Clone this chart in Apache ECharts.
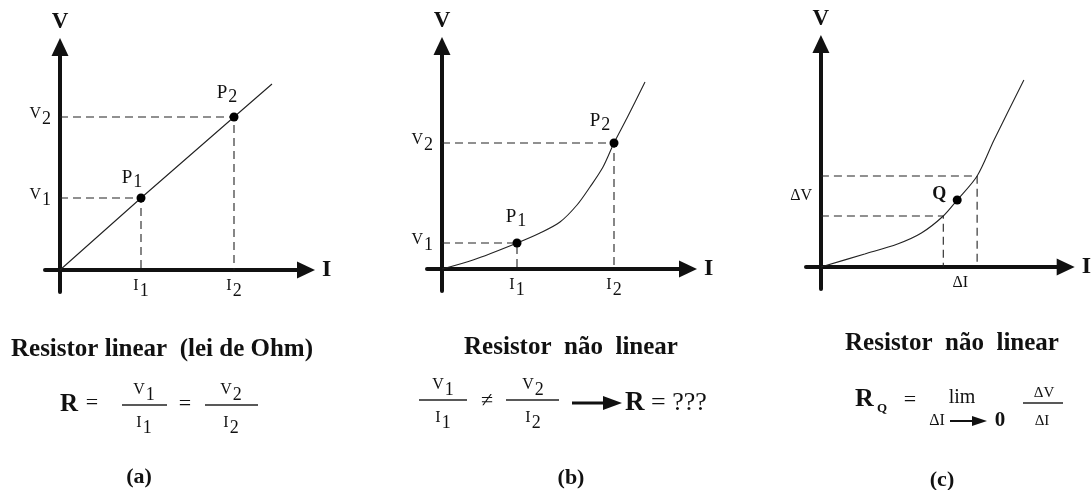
<!DOCTYPE html>
<html>
<head>
<meta charset="utf-8">
<title>Resistor linear e não linear</title>
<script src="https://cdn.jsdelivr.net/npm/echarts@6/dist/echarts.min.js"></script>
<style>
  html, body { margin: 0; padding: 0; background: #fff; }
  #chart { width: 1092px; height: 490px; }
</style>
</head>
<body>
<div id="chart"></div>
<script>
// (a) resistor linear: reta passando pela origem
const linearI = [0, 81, 174, 212];
const linearV = [0, 72, 153, 186];
const pointsA_I = [81, 174];
const pointsA_V = [72, 153];

// (b) resistor não linear
const curveB_I = [0, 31, 75, 98, 118, 135, 148, 161, 172, 185, 203];
const curveB_V = [0, 9, 26, 36, 47, 64, 82, 102, 126, 151, 187];
const pointsB_I = [75, 172];
const pointsB_V = [26, 126];

// (c) ponto Q e os incrementos
const curveC_I = [0, 44, 77, 101, 123, 137, 157, 174, 204];
const curveC_V = [0, 13, 23, 34, 51, 67, 91, 127, 187];
const pointQ_I = [137];
const pointQ_V = [67];
const deltaI = [123, 157];
const deltaV = [51, 91];

// rótulos
const pointNames = [['P', '1'], ['P', '2']];
const tickI = [['I', '1'], ['I', '2']];
const tickV = [['V', '1'], ['V', '2']];

const SERIF = "'Liberation Serif', 'DejaVu Serif', serif";
const INK = '#111';

const sub = (b, s) => '{b|' + b + '}{s|' + s + '}';
const tickRich = {
  b: { fontFamily: SERIF, fontSize: 16, color: INK, verticalAlign: 'top' },
  s: { fontFamily: SERIF, fontSize: 18, color: INK, verticalAlign: 'bottom', padding: [4, 0, 0, 1] }
};
const ptRich = {
  b: { fontFamily: SERIF, fontSize: 19, color: INK, verticalAlign: 'top' },
  s: { fontFamily: SERIF, fontSize: 18, color: INK, verticalAlign: 'bottom', padding: [4, 0, 0, 1] }
};

// origem de cada painel em pixels -> grids
const origins = [[60, 270], [442, 269], [821, 267]];
const X_MIN = -15, X_MAX = 246, Y_MIN = -22, Y_MAX = 223;

const grids = origins.map(o => ({
  left: o[0] + X_MIN, top: o[1] - Y_MAX,
  width: X_MAX - X_MIN, height: Y_MAX - Y_MIN
}));

function xAxis(idx, values, labels) {
  return {
    type: 'value', gridIndex: idx, min: X_MIN, max: X_MAX,
    name: 'I', nameLocation: 'end', nameGap: 16,
    nameTextStyle: { fontFamily: SERIF, fontWeight: 'bold', fontSize: 24, color: INK },
    axisLine: { onZero: true, symbol: ['none', 'triangle'], symbolSize: [17, 18],
      lineStyle: { color: INK, width: 4 } },
    axisTick: { show: false },
    splitLine: { show: false },
    axisLabel: { customValues: values, margin: -14, rich: tickRich,
      formatter: v => labels[values.indexOf(v)] || '' }
  };
}
function yAxis(idx, values, labels) {
  return {
    type: 'value', gridIndex: idx, min: Y_MIN, max: Y_MAX,
    name: 'V', nameLocation: 'end', nameGap: 13,
    nameTextStyle: { fontFamily: SERIF, fontWeight: 'bold', fontSize: 23, color: INK },
    axisLine: { onZero: true, symbol: ['none', 'triangle'], symbolSize: [17, 18],
      lineStyle: { color: INK, width: 4 } },
    axisTick: { show: false },
    splitLine: { show: false },
    axisLabel: { customValues: values, margin: -6, rich: tickRich,
      formatter: v => labels[values.indexOf(v)] || '' }
  };
}

const zip = (a, b) => a.map((v, i) => [v, b[i]]);

function curve(idx, I, V, smooth) {
  return {
    type: 'line', xAxisIndex: idx, yAxisIndex: idx, data: zip(I, V),
    showSymbol: false, smooth: smooth, silent: true,
    lineStyle: { color: '#222', width: 1.1 }, z: 3
  };
}
// linhas tracejadas: eixo V -> ponto -> eixo I
function guides(idx, I, V) {
  return I.map((x, k) => ({
    type: 'line', xAxisIndex: idx, yAxisIndex: idx, silent: true,
    data: [[0, V[k]], [x, V[k]], [x, 0]], showSymbol: false,
    lineStyle: { color: '#222', width: 1.1, type: [8, 5] }, z: 2
  }));
}
function points(idx, I, V, labels, offsets) {
  return {
    type: 'scatter', xAxisIndex: idx, yAxisIndex: idx, symbolSize: 9,
    itemStyle: { color: '#000', opacity: 1 }, z: 4,
    data: zip(I, V).map((p, k) => ({
      value: p,
      label: { show: true, position: 'inside', offset: offsets[k], rich: labels[k].rich,
        formatter: labels[k].text, fontFamily: SERIF, fontWeight: labels[k].bold ? 'bold' : 'normal',
        fontSize: 18, color: INK }
    }))
  };
}

const pLabels = pointNames.map(n => ({ text: sub(n[0], n[1]), rich: ptRich }));

const midI = (deltaI[0] + deltaI[1]) / 2;
const midV = (deltaV[0] + deltaV[1]) / 2;

const series = [
  curve(0, linearI, linearV, false),
  ...guides(0, pointsA_I, pointsA_V),
  points(0, pointsA_I, pointsA_V, pLabels, [[-9, -18], [-7, -22]]),
  curve(1, curveB_I, curveB_V, 0.3),
  ...guides(1, pointsB_I, pointsB_V),
  points(1, pointsB_I, pointsB_V, pLabels, [[-1, -24], [-14, -20]]),
  curve(2, curveC_I, curveC_V, 0.3),
  ...guides(2, deltaI, deltaV),
  points(2, pointQ_I, pointQ_V, [{ text: 'Q', bold: true }], [[-18, -6]])
];

// textos e fórmulas abaixo dos gráficos
function txt(x, y, text, o) {
  return { type: 'text', x: x, y: y, silent: true,
    style: Object.assign({ text: text, fontFamily: SERIF, fontSize: 22, fill: INK,
      align: 'center', verticalAlign: 'middle' }, o || {}) };
}
function bar(x1, x2, y) {
  return { type: 'line', silent: true, shape: { x1: x1, y1: y, x2: x2, y2: y },
    style: { stroke: '#222', lineWidth: 1.3 } };
}
function frac(cx, x1, x2, yLine, num, den) {
  return [
    txt(cx, yLine - 12, num, { rich: tickRich }),
    bar(x1, x2, yLine),
    txt(cx, yLine + 21, den, { rich: tickRich })
  ];
}
const bold = { fontWeight: 'bold', fontSize: 25 };

const graphic = [
  // (a)
  txt(162, 350, 'Resistor linear  (lei de Ohm)', bold),
  txt(60, 405, 'R', { fontWeight: 'bold', fontSize: 25, align: 'left' }),
  txt(92, 403, '=', { fontSize: 22 }),
  ...frac(144, 122, 167, 405, sub('V', '1'), sub('I', '1')),
  txt(185, 404, '=', { fontSize: 22 }),
  ...frac(231, 205, 258, 405, sub('V', '2'), sub('I', '2')),
  txt(139, 477, '(a)', { fontWeight: 'bold', fontSize: 22 }),
  // (b)
  txt(571, 348, 'Resistor  não  linear', bold),
  ...frac(443, 419, 467, 400, sub('V', '1'), sub('I', '1')),
  txt(487, 401, '≠', { fontSize: 22 }),
  ...frac(533, 506, 559, 400, sub('V', '2'), sub('I', '2')),
  { type: 'line', silent: true, shape: { x1: 572, y1: 403, x2: 606, y2: 403 },
    style: { stroke: INK, lineWidth: 3 } },
  { type: 'polygon', silent: true, shape: { points: [[603, 396], [622, 403], [603, 410]] },
    style: { fill: INK } },
  txt(625, 403, '{r|R} = ???', { fontSize: 26, align: 'left',
    rich: { r: { fontFamily: SERIF, fontWeight: 'bold', fontSize: 27, color: INK } } }),
  txt(571, 478, '(b)', { fontWeight: 'bold', fontSize: 22 }),
  // (c)
  txt(952, 344, 'Resistor  não  linear', bold),
  txt(855, 399, 'R', { fontWeight: 'bold', fontSize: 26, align: 'left' }),
  txt(882, 409, 'Q', { fontWeight: 'bold', fontSize: 13 }),
  txt(910, 400, '=', { fontSize: 22 }),
  txt(962, 398, 'lim', { fontSize: 20 }),
  txt(937, 421, 'ΔI', { fontSize: 16 }),
  { type: 'line', silent: true, shape: { x1: 950, y1: 421, x2: 976, y2: 421 },
    style: { stroke: INK, lineWidth: 2 } },
  { type: 'polygon', silent: true, shape: { points: [[972, 416], [987, 421], [972, 426]] },
    style: { fill: INK } },
  txt(1000, 421, '0', { fontWeight: 'bold', fontSize: 21 }),
  txt(1044, 393, 'ΔV', { fontSize: 15 }),
  bar(1023, 1063, 403),
  txt(1042, 421, 'ΔI', { fontSize: 15 }),
  txt(942, 480, '(c)', { fontWeight: 'bold', fontSize: 22 })
];

const chart = echarts.init(document.getElementById('chart'), null, { renderer: 'canvas' });
chart.setOption({
  animation: false,
  backgroundColor: '#fff',
  grid: grids,
  xAxis: [
    xAxis(0, pointsA_I, tickI.map(t => sub(t[0], t[1]))),
    xAxis(1, pointsB_I, tickI.map(t => sub(t[0], t[1]))),
    xAxis(2, [midI], ['{b|ΔI}'])
  ],
  yAxis: [
    yAxis(0, pointsA_V, tickV.map(t => sub(t[0], t[1]))),
    yAxis(1, pointsB_V, tickV.map(t => sub(t[0], t[1]))),
    yAxis(2, [midV], ['{b|ΔV}'])
  ],
  series: series,
  graphic: graphic
});
</script>
</body>
</html>
